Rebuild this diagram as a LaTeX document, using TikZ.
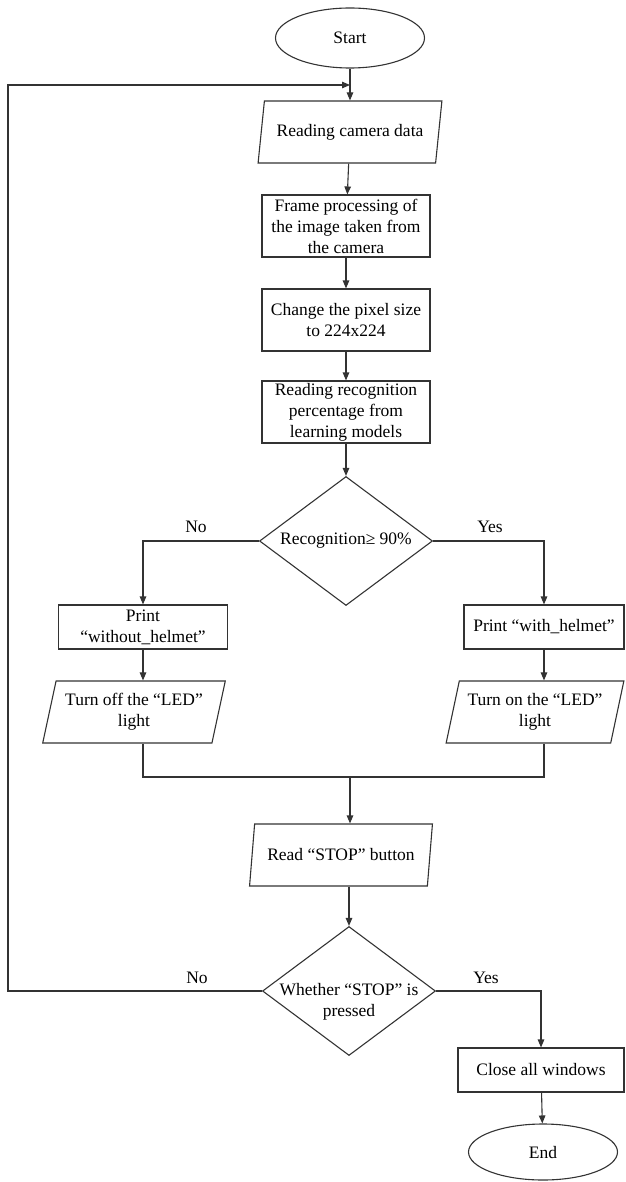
\documentclass[tikz,border=0pt]{standalone}
\usepackage{fontspec}
\setmainfont{Liberation Serif}
\usetikzlibrary{shapes.geometric,arrows.meta}

\begin{document}
\begin{tikzpicture}[x=1pt, y=-1pt, font=\fontsize{17.5}{21}\selectfont, line width=1.1pt,
    >={Triangle[length=8pt,width=6.5pt]},
    line/.style={draw=black!80},
    term/.style={ellipse, draw=black!80, minimum width=149, minimum height=60, inner sep=0pt},
    box/.style={rectangle, draw=black!80, minimum width=168, minimum height=62, inner sep=1pt, align=center},
    io/.style={trapezium, trapezium left angle=73, trapezium right angle=107, trapezium stretches=true, draw=black!80, minimum width=184, minimum height=62, inner sep=1pt, align=center},
    decision/.style={diamond, draw=black!80, minimum width=173, minimum height=129, inner sep=0pt}]
        \useasboundingbox (0,0) rectangle (625,1182);

        % main column
        \node [term] (start) at (350,38) {Start};
        \node [io] (read) at (350,132) {Reading camera data};
        \node [box] (frame) at (346,226) {Frame processing of\\the image taken from\\the camera};
        \node [box] (resize) at (346,320) {Change the pixel size\\to 224x224};
        \node [box] (model) at (346,412) {Reading recognition\\percentage from\\learning models};
        \node [decision, label=center:{Recognition≥ 90\%}] (check) at (346,541) {};

        % branches
        \node [box, minimum width=169, minimum height=44] (noprint) at (143,627) {Print\\“without\_helmet”};
        \node [box, minimum width=160, minimum height=44] (yesprint) at (544,627) {Print “with\_helmet”};
        \node [io, minimum width=183] (turnoff) at (134,712) {Turn off the “LED”\\light};
        \node [io, minimum width=178] (turnon) at (535,712) {Turn on the “LED”\\light};
        \node (nolbl) at (196,527) {No};
        \node (yeslbl) at (490,527) {Yes};
        \coordinate (merge) at (350,777);

        % stop test
        \node [io, minimum width=183] (readstop) at (341,855) {Read “STOP” button};
        \node [decision, label={[align=center, yshift=-11pt]center:Whether “STOP” is\\pressed}] (stop) at (349,991) {};
        \node (nolbl2) at (197,978) {No};
        \node (yeslbl2) at (486,978) {Yes};
        \node [box, minimum width=166, minimum height=44] (close) at (541,1070) {Close all windows};
        \node [term, minimum height=56] (finish) at (543,1152) {End};
        \coordinate (back) at (8,85);
        \coordinate (join) at (350,85);

        \draw[line,->] (start) -- (read); \draw[line,->] (read) -- (frame); \draw[line,->] (frame) -- (resize);
        \draw[line,->] (resize) -- (model); \draw[line,->] (model) -- (check);
        \draw[line,->] (check.west) -| (noprint.north); \draw[line,->] (check.east) -| (yesprint.north);
        \draw[line,->] (noprint) -- (noprint |- turnoff.north); \draw[line,->] (yesprint) -- (yesprint |- turnon.north);
        \draw[line] (noprint |- turnoff.south) |- (merge) -| (yesprint |- turnon.south);
        \draw[line,->] (merge) -- (merge |- readstop.north);
        \draw[line,->] (readstop.south -| stop) -- (stop);
        \draw[line,->] (stop.west) -| (back) -- (join);
        \draw[line,->] (stop.east) -| (close.north);
        \draw[line,->] (close) -- (finish);
    \end{tikzpicture}
\end{document}
